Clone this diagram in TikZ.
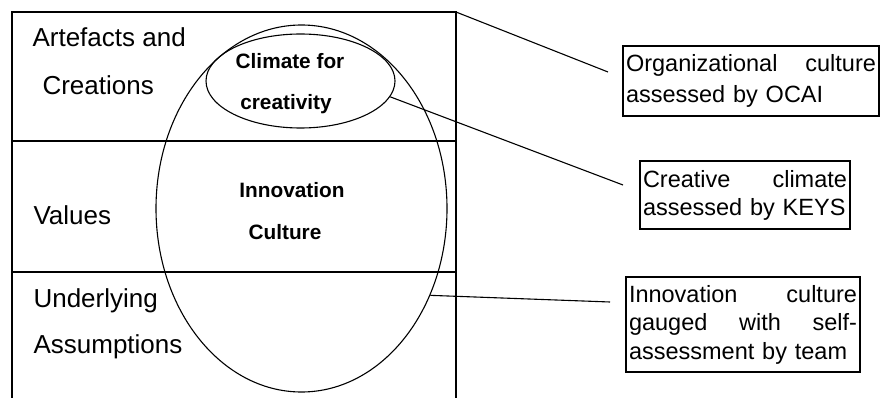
\documentclass[tikz,border=0pt]{standalone}
\usepackage{fontspec}
\setmainfont{Liberation Sans}
\usetikzlibrary{shapes.geometric}
\begin{document}
\begin{tikzpicture}[x=1pt,y=-1pt,line width=1.1pt,
  lbl/.style={anchor=base west,inner sep=0pt,font=\fontsize{26}{30}\selectfont},
  blbl/.style={anchor=base,inner sep=0pt,font=\bfseries\fontsize{20.8}{24}\selectfont},
  mbox/.style={draw,line width=1.1pt,inner xsep=3pt,inner ysep=0pt,align=left},
  oval/.style={draw,ellipse,inner sep=0pt},
  conn/.style={line width=1.1pt}]
\useasboundingbox (0,0) rectangle (880,398);
% layered table
\coordinate (tl) at (12,12);
\coordinate (tr) at (456,12);
\coordinate (bl) at (12,398);
\coordinate (br) at (456,398);
\draw (bl) -- (tl) -- (tr) -- (br);
\draw[line width=1.6pt] (12,141) -- (456,141);
\draw (12,272) -- (456,272);
% labels
\node[lbl] (art) at (32,47) {Artefacts and};
\node[lbl] (cre) at (42,95) {Creations};
\node[lbl] (val) at (33,224) {Values};
\node[lbl] (und) at (33,307) {Underlying};
\node[lbl] (ass) at (33,353) {Assumptions};
% ellipses
\node[oval,minimum width=291pt,minimum height=367pt] (big) at (301.5,208.5) {};
\node[oval,minimum width=189pt,minimum height=94pt] (small) at (300.5,81) {};
\node[blbl] (cl1) at (290,69) {Climate for};
\node[blbl] (cl2) at (286,110) {creativity};
\node[blbl] (in1) at (292,197) {Innovation};
\node[blbl] (in2) at (285,239) {Culture};
% right boxes
\node[mbox,text width=250pt,minimum height=70pt,font=\fontsize{23.5}{31.5}\selectfont] (ocai) at (751,81)
  {Organizational\hfill culture\\assessed by OCAI};
\node[mbox,text width=204pt,minimum height=68pt,font=\fontsize{23.5}{28}\selectfont] (keys) at (745,195)
  {Creative\hfill climate\\assessed by KEYS};
\node[mbox,text width=228pt,minimum height=95pt,font=\fontsize{23.5}{28.5}\selectfont] (team) at (743,324.5)
  {Innovation\hfill culture\\gauged\hfill with\hfill self-\\assessment by team};
% connectors
\coordinate (e1) at (608,72);
\coordinate (e2) at (623,185);
\coordinate (e3) at (610,302);
\draw[conn] (tr) -- (e1);
\draw[conn] (small.-10.5) -- (e2);
\draw[conn] (big.-34.6) -- (e3);
\end{tikzpicture}
\end{document}
